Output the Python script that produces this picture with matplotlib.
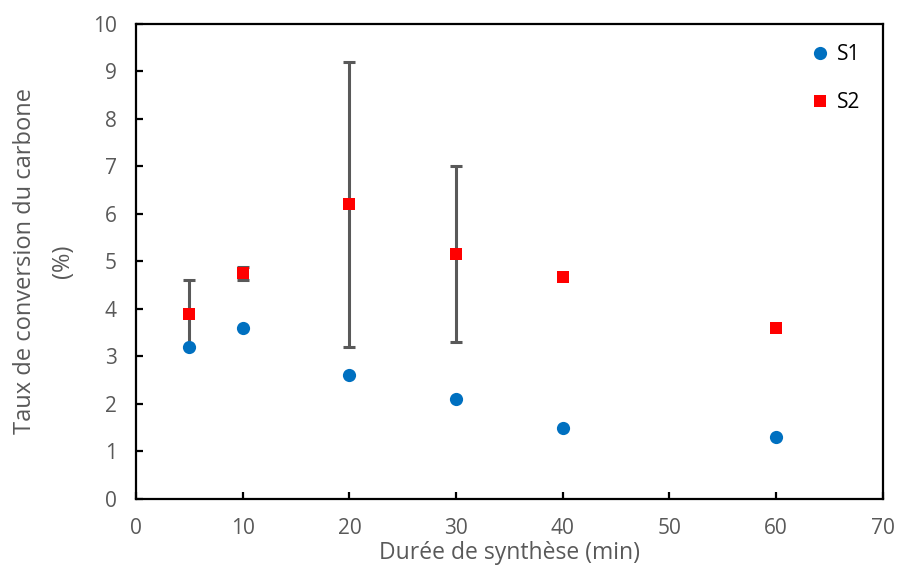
import matplotlib
matplotlib.use("Agg")
import matplotlib.pyplot as plt

x = [5, 10, 20, 30, 40, 60]
s1 = [3.2, 3.6, 2.6, 2.1, 1.5, 1.3]
s2 = [3.9, 4.75, 6.2, 5.15, 4.68, 3.6]
s2_err = [0.7, 0.13, 3.0, 1.85, 0, 0]

plt.rcParams['font.family'] = ['Open Sans', 'DejaVu Sans']
gray = '#595959'

fig = plt.figure(figsize=(8.99, 5.66), dpi=100)
ax = fig.add_axes([0.1513, 0.1184, 0.8307, 0.8392])

err_x = [xi for xi, e in zip(x, s2_err) if e > 0]
err_y = [yi for yi, e in zip(s2, s2_err) if e > 0]
err_v = [e for e in s2_err if e > 0]
ax.errorbar(err_x, err_y, yerr=err_v, fmt='none', ecolor=gray, elinewidth=2.2,
            capsize=4.5, capthick=2.2, zorder=1)
ax.plot(x, s1, 'o', color='#0070C0', markersize=9.5, label='S1', zorder=3, markeredgewidth=0)
ax.plot(x, s2, 's', color='#FF0000', markersize=9, label='S2', zorder=3, markeredgewidth=0)

ax.set_xlim(0, 70)
ax.set_ylim(0, 10)
ax.set_xticks(range(0, 71, 10))
ax.set_yticks(range(0, 11, 1))
for s in ax.spines.values():
    s.set_linewidth(1.6)
    s.set_color('black')
ax.tick_params(axis='both', direction='in', length=5, width=1.6, colors='black',
               labelcolor=gray, labelsize=15)
ax.tick_params(axis='x', pad=14)
ax.tick_params(axis='y', pad=14)

ax.set_xlabel('Durée de synthèse (min)', fontsize=16.5, color=gray, labelpad=1)
ax.set_ylabel('Taux de conversion du carbone\n(%)', fontsize=17, color=gray,
              linespacing=1.75, labelpad=13)

leg = ax.legend(loc='upper right', frameon=False, fontsize=15, labelspacing=1.3,
                handletextpad=0.1, handlelength=1.5, borderaxespad=0.3,
                bbox_to_anchor=(0.99, 0.988))
for t in leg.get_texts():
    t.set_color('black')

fig.savefig('out.png', dpi=100)
